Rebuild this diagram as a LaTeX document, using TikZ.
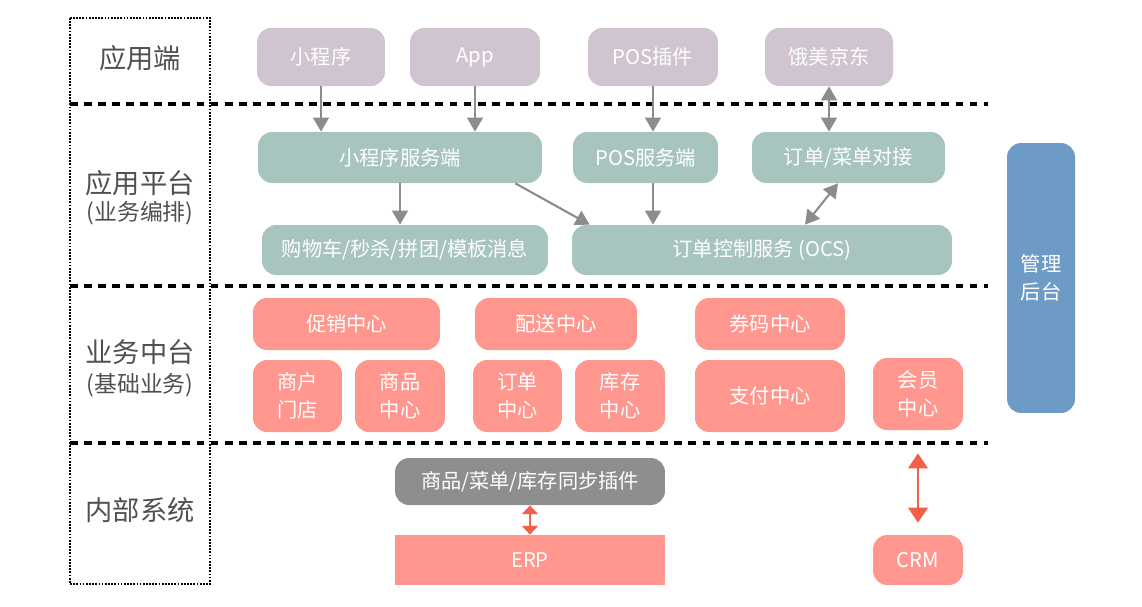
\documentclass[tikz,border=0pt]{standalone}
\usepackage{fontspec}
\setmainfont{Noto Sans CJK SC}
\usetikzlibrary{arrows.meta}
\definecolor{appc}{HTML}{D0C4D1}
\definecolor{platc}{HTML}{A7C4BF}
\definecolor{basec}{HTML}{FF978E}
\definecolor{syncc}{HTML}{8E8E8E}
\definecolor{adminc}{HTML}{6E9BC5}
\definecolor{arrowc}{HTML}{8C8C8C}
\definecolor{redc}{HTML}{F45F48}
\definecolor{labelc}{HTML}{505050}
\begin{document}
\begin{tikzpicture} [x=0.02cm, y=-0.02cm,
	box/.style={rounded corners=8pt, fill=#1, text=white, align=center, inner sep=0pt,
		font=\fontsize{11.5}{16}\selectfont},
	layer/.style={text=labelc, align=center, font=\fontsize{15.5}{18}\selectfont},
	sublayer/.style={text=labelc, font=\fontsize{13}{16}\selectfont},
	sep/.style={line width=2pt, dash pattern=on 4.5pt off 3.5pt},
	garrow/.style={draw=arrowc, line width=1.2pt, -{Triangle[width=9pt,length=8pt]}},
	gdarrow/.style={draw=arrowc, line width=1.2pt, {Triangle[width=9pt,length=8pt]}-{Triangle[width=9pt,length=8pt]}},
	rdarrow/.style={draw=redc, line width=1.6pt, {Triangle[width=11pt,length=8.5pt]}-{Triangle[width=11pt,length=8.5pt]}},
	rsarrow/.style={draw=redc, line width=1.6pt, {Triangle[width=9pt,length=5pt]}-{Triangle[width=9pt,length=5pt]}}]
	\useasboundingbox (0,0) rectangle (1142,606);
	% layers
	\draw [line width=1.3pt, dash pattern=on 1pt off 0.8pt] (70,18) rectangle (210,584);
	\draw [sep] (70,104) -- (988,104);
	\draw [sep] (70,286) -- (988,286);
	\draw [sep] (70,443) -- (988,443);
	\node [layer] (lapp) at (140,58) {应用端};
	\node [layer] (lplat) at (140,183) {应用平台};
	\node [sublayer] (lplats) at (140,213) {(业务编排)};
	\node [layer] (lbase) at (140,352) {业务中台};
	\node [sublayer] (lbases) at (140,385) {(基础业务)};
	\node [layer] (lint) at (140,510) {内部系统};
	% apps
	\node [box=appc, minimum width=2.56cm, minimum height=1.16cm] (xcx) at (321,57) {小程序};
	\node [box=appc, minimum width=2.6cm, minimum height=1.16cm] (app) at (475,57) {App};
	\node [box=appc, minimum width=2.6cm, minimum height=1.16cm] (pos) at (653,57) {POS插件};
	\node [box=appc, minimum width=2.56cm, minimum height=1.16cm] (elm) at (829,57) {饿美京东};
	% platform
	\node [box=platc, minimum width=5.68cm, minimum height=1.02cm] (xfw) at (400,157.5) {小程序服务端};
	\node [box=platc, minimum width=2.9cm, minimum height=1.02cm] (posfw) at (645.5,157.5) {POS服务端};
	\node [box=platc, minimum width=3.86cm, minimum height=1.02cm] (djk) at (848.5,157.5) {订单/菜单对接};
	\node [box=platc, minimum width=5.72cm, minimum height=1cm] (gwc) at (405,250) {购物车/秒杀/拼团/模板消息};
	\node [box=platc, minimum width=7.6cm, minimum height=1cm] (ocs) at (762,250) {订单控制服务 (OCS)};
	% base
	\node [box=basec, minimum width=3.74cm, minimum height=1.04cm] (cx) at (346.5,324) {促销中心};
	\node [box=basec, minimum width=3.24cm, minimum height=1.04cm] (ps) at (556,324) {配送中心};
	\node [box=basec, minimum width=3cm, minimum height=1.04cm] (qm) at (770,324) {券码中心};
	\node [box=basec, minimum width=1.78cm, minimum height=1.44cm] (shmd) at (297.5,396) {商户\\门店};
	\node [box=basec, minimum width=1.8cm, minimum height=1.44cm] (sp) at (400,396) {商品\\中心};
	\node [box=basec, minimum width=1.78cm, minimum height=1.44cm] (dd) at (517.5,396) {订单\\中心};
	\node [box=basec, minimum width=1.8cm, minimum height=1.44cm] (kc) at (620,396) {库存\\中心};
	\node [box=basec, minimum width=3cm, minimum height=1.44cm] (zf) at (770,396) {支付中心};
	\node [box=basec, minimum width=1.8cm, minimum height=1.44cm] (hy) at (918,394) {会员\\中心};
	% internal
	\node [box=syncc, minimum width=5.4cm, minimum height=0.94cm] (sync) at (530,481.5) {商品/菜单/库存同步插件};
	\node [box=basec, rounded corners=0pt, minimum width=5.4cm, minimum height=1cm] (erp) at (530,560) {ERP};
	\node [box=basec, minimum width=1.8cm, minimum height=1cm] (crm) at (918,560) {CRM};
	\node [box=adminc, minimum width=1.36cm, minimum height=5.4cm] (admin) at (1041,278) {管理\\后台};
	% connectors
	\draw [garrow] (xcx.south) -- (xcx.south |- xfw.north);
	\draw [garrow] (app.south) -- (app.south |- xfw.north);
	\draw [garrow] (pos.south) -- (pos.south |- posfw.north);
	\draw [gdarrow] (elm.south) -- (elm.south |- djk.north);
	\draw [garrow] (xfw.south) -- (xfw.south |- gwc.north);
	\draw [garrow] ([xshift=-0.54cm]xfw.south east) -- ([xshift=0.36cm]ocs.north west);
	\draw [garrow] (posfw.south -| pos.south) -- (pos.south |- ocs.north);
	\draw [gdarrow] ([xshift=-0.21cm]djk.south) -- ([xshift=0.86cm]ocs.north);
	\draw [rsarrow] (sync.south) -- (erp.north);
	\draw [rdarrow, shorten <=0.46cm, shorten >=0.24cm] (hy.south) -- (crm.north);
\end{tikzpicture}
\end{document}
